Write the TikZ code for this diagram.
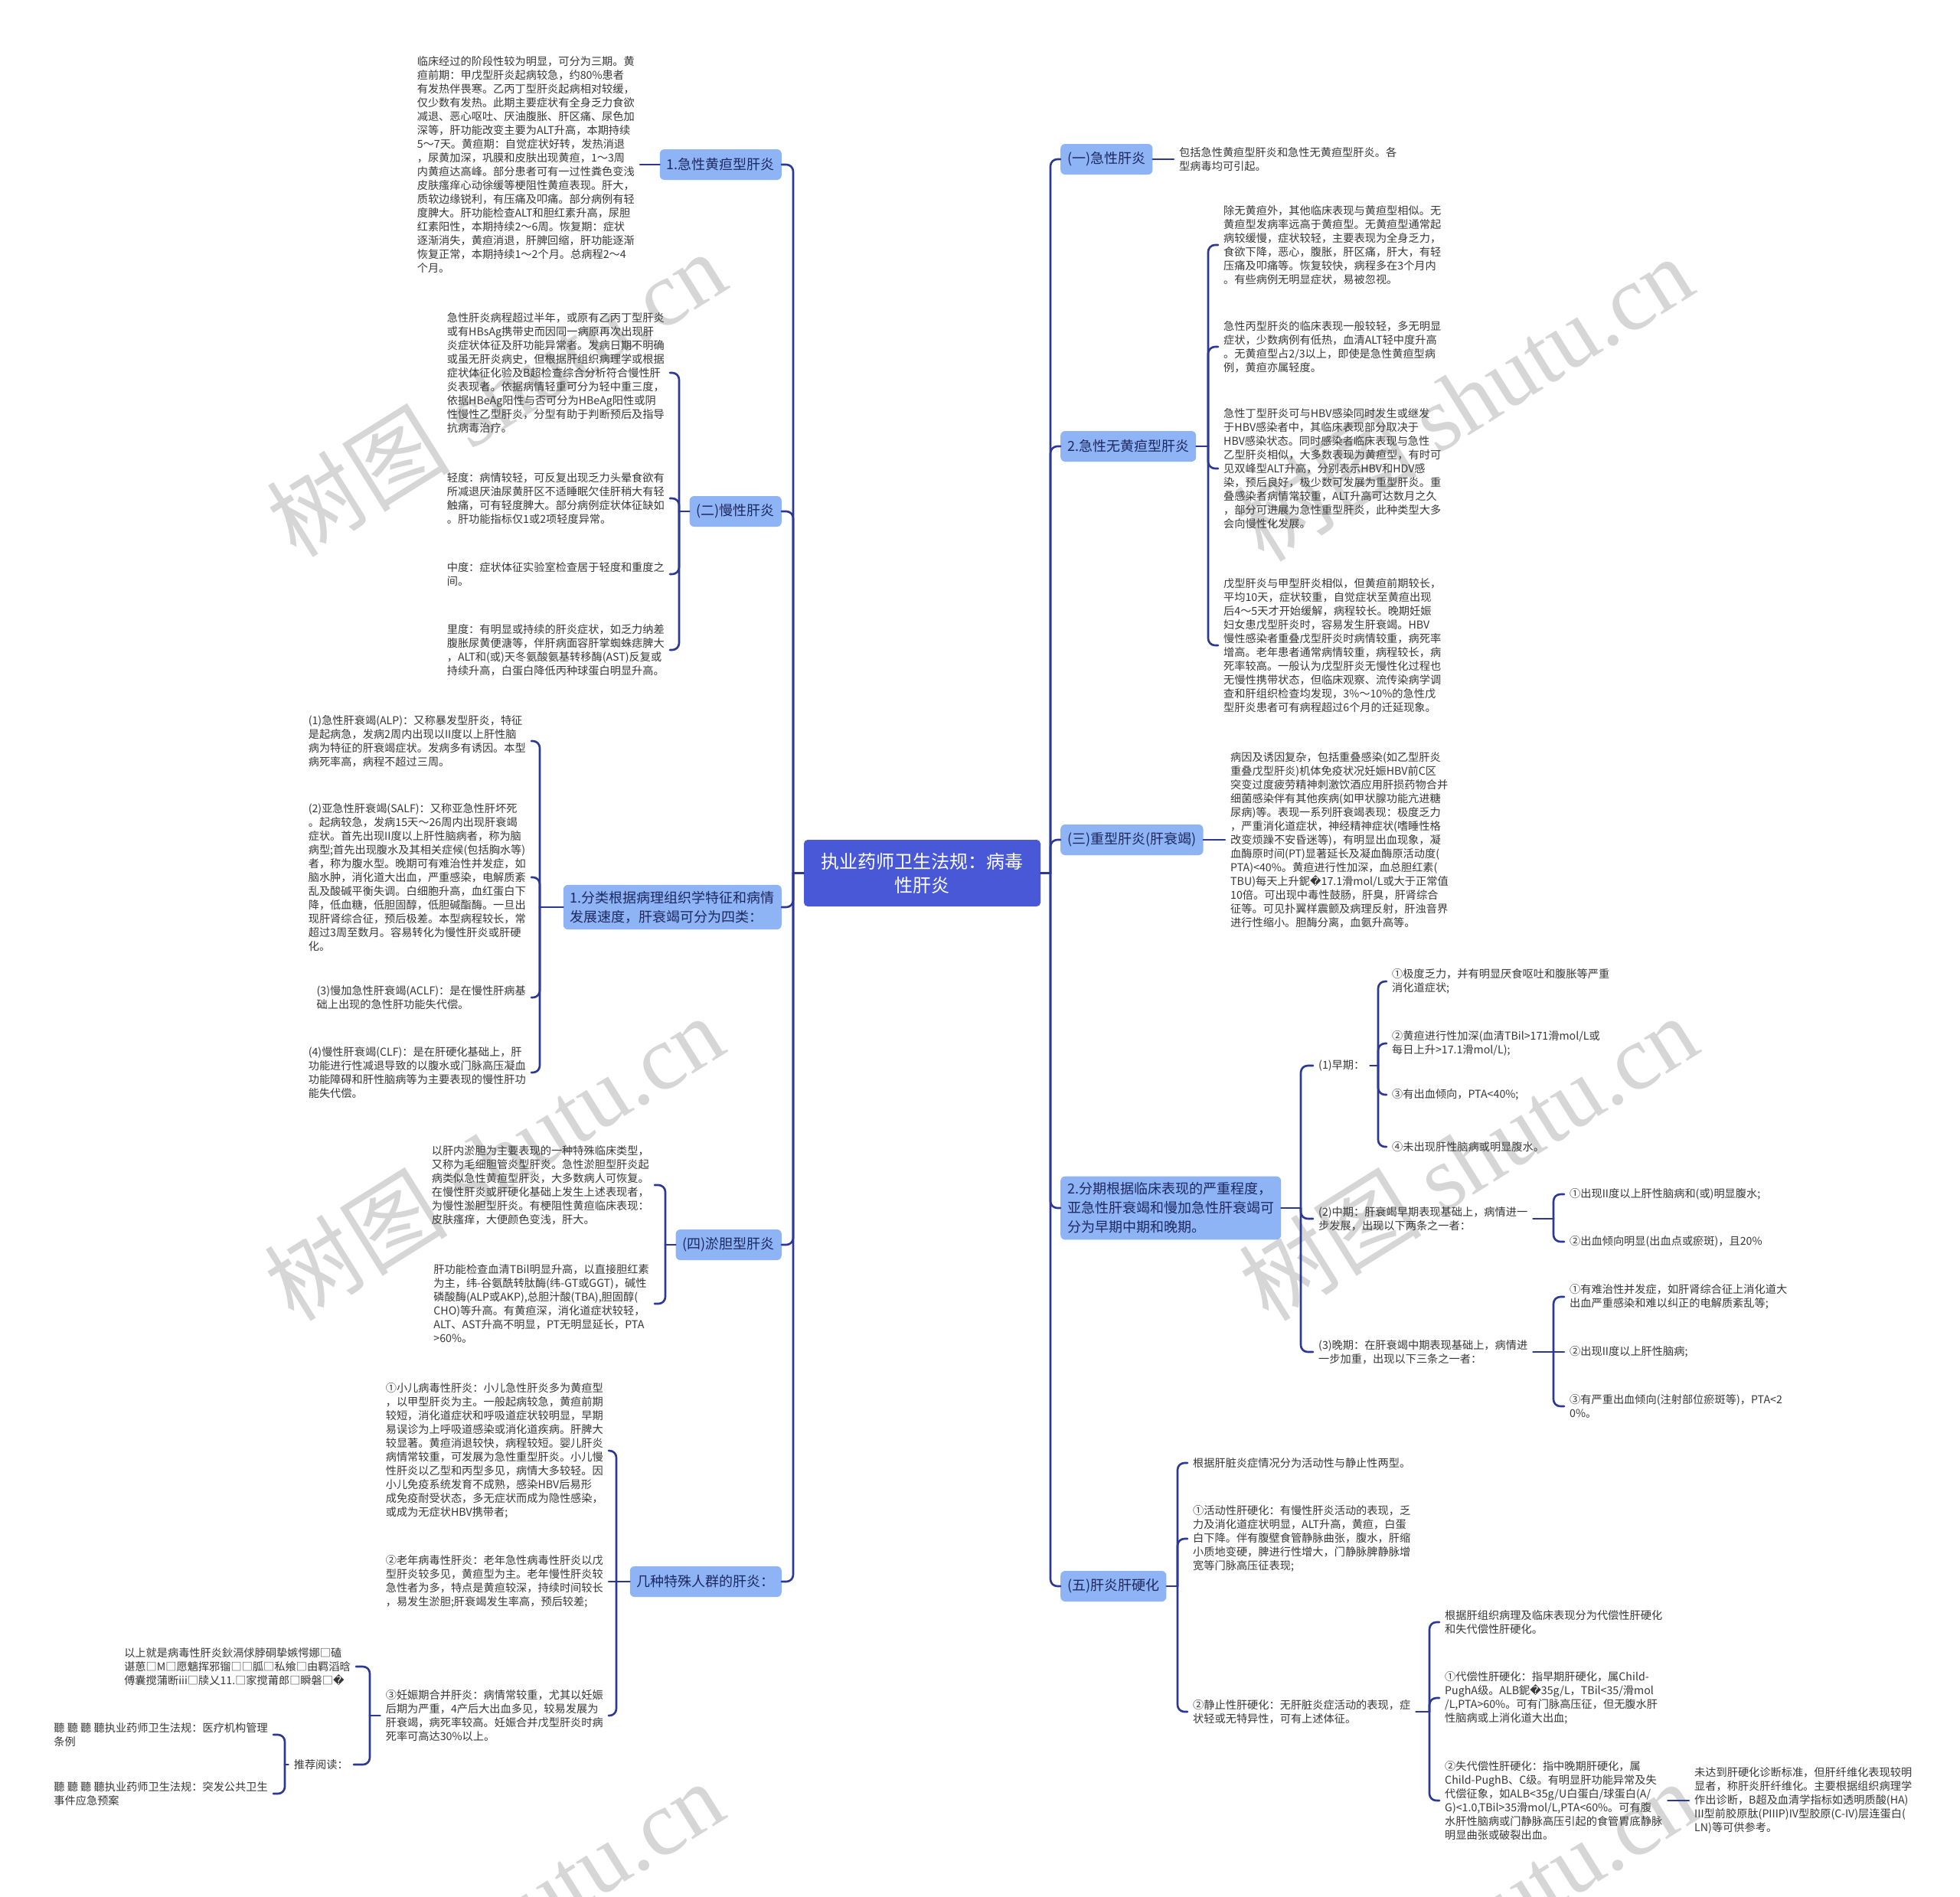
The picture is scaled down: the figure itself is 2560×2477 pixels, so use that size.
\documentclass[tikz,border=0pt]{standalone}
\usepackage{fontspec}
\setmainfont{Noto Sans CJK SC}
\newfontfamily\dv{DejaVu Sans}
\newfontfamily\wmserif{Liberation Serif}
\definecolor{linec}{RGB}{43,56,150}
\definecolor{mainfill}{RGB}{72,88,214}
\definecolor{secfill}{RGB}{142,180,246}
\definecolor{sectext}{RGB}{30,40,95}
\definecolor{leaftext}{RGB}{55,55,55}
\definecolor{wmc}{RGB}{214,214,214}
\tikzset{
 conn/.style={draw=linec, line width=2.6pt, line cap=round},
 rc/.style={rounded corners=9pt},
 mainnode/.style={fill=mainfill, text=white, rounded corners=5pt, align=center, font=\fontsize{24}{31}\selectfont, minimum width=309pt, minimum height=87pt, inner sep=6pt},
 secnode/.style={fill=secfill, text=sectext, rounded corners=6pt, align=left, font=\fontsize{18}{25}\selectfont, inner xsep=9pt, inner ysep=8pt, minimum height=40pt},
 leafL/.style={text=leaftext, align=left, font=\fontsize{14.2}{18}\selectfont, inner xsep=7pt, inner ysep=2pt, anchor=east},
 leafR/.style={text=leaftext, align=left, font=\fontsize{14.2}{18}\selectfont, inner xsep=7pt, inner ysep=2pt, anchor=west},
 wm/.style={text=wmc, rotate=32, font=\fontsize{120}{120}\selectfont, inner sep=0pt}
}
\begin{document}
\begin{tikzpicture}[x=1pt,y=-1pt]
\useasboundingbox (0,0) rectangle (2560,2477);
\clip (0,0) rectangle (2560,2477);
\fill[white] (0,0) rectangle (2560,2477);

% watermarks
\node[wm] (w1) at (648,514) {树图 {\wmserif shutu.cn}};
\node[wm] (w2) at (1911,520) {树图 {\wmserif shutu.cn}};
\node[wm] (w3) at (645,1512) {树图 {\wmserif shutu.cn}};
\node[wm] (w4) at (1917,1512) {树图 {\wmserif shutu.cn}};
\node[wm] (w5) at (645,2512) {树图 {\wmserif shutu.cn}};
\node[wm] (w6) at (1917,2512) {树图 {\wmserif shutu.cn}};

% center
\node[mainnode] (c) at (1204.5,1140.5) {执业药师卫生法规：病毒\\性肝炎};
\coordinate (cL) at (1036,1140.5);
\coordinate (cR) at (1372,1140.5);

% left secondary nodes
\node[secnode, anchor=east] (n1) at (1021,215) {1.急性黄疸型肝炎};
\node[secnode, anchor=east] (n2) at (1021,668) {(二)慢性肝炎};
\node[secnode, anchor=east] (n3) at (1021,1185) {1.分类根据病理组织学特征和病情\\发展速度，肝衰竭可分为四类：};
\node[secnode, anchor=east] (n4) at (1021,1626) {(四)淤胆型肝炎};
\node[secnode, anchor=east] (n5) at (1021,2066) {几种特殊人群的肝炎：};

% right secondary nodes
\node[secnode, anchor=west] (s1) at (1385,208) {(一)急性肝炎};
\node[secnode, anchor=west] (s2) at (1385,583) {2.急性无黄疸型肝炎};
\node[secnode, anchor=west] (s3) at (1385,1097) {(三)重型肝炎(肝衰竭)};
\node[secnode, anchor=west] (s4) at (1385,1578) {2.分期根据临床表现的严重程度，\\亚急性肝衰竭和慢加急性肝衰竭可\\分为早期中期和晚期。};
\node[secnode, anchor=west] (s5) at (1385,2072) {(五)肝炎肝硬化};

\foreach \n in {n1,n2,n3,n4,n5} \draw[conn,rc] (\n.east) -| (cL);
\draw[conn] (cL) -- (c.west);
\foreach \n in {s1,s2,s3,s4,s5} \draw[conn,rc] (\n.west) -| (cR);
\draw[conn] (cR) -- (c.east);

% ---------- N1
\node[leafL] (l1) at (836,215) {临床经过的阶段性较为明显，可分为三期。黄\\疸前期：甲戊型肝炎起病较急，约80\%患者\\有发热伴畏寒。乙丙丁型肝炎起病相对较缓，\\仅少数有发热。此期主要症状有全身乏力食欲\\减退、恶心呕吐、厌油腹胀、肝区痛、尿色加\\深等，肝功能改变主要为ALT升高，本期持续\\5～7天。黄疸期：自觉症状好转，发热消退\\，尿黄加深，巩膜和皮肤出现黄疸，1～3周\\内黄疸达高峰。部分患者可有一过性粪色变浅\\皮肤瘙痒心动徐缓等梗阻性黄疸表现。肝大，\\质软边缘锐利，有压痛及叩痛。部分病例有轻\\度脾大。肝功能检查ALT和胆红素升高，尿胆\\红素阳性，本期持续2～6周。恢复期：症状\\逐渐消失，黄疸消退，肝脾回缩，肝功能逐渐\\恢复正常，本期持续1～2个月。总病程2～4\\个月。};
\draw[conn] (l1.east) -- (n1.west);

% ---------- N2
\coordinate (b2) at (887,668);
\node[leafL] (l2a) at (875,487) {急性肝炎病程超过半年，或原有乙丙丁型肝炎\\或有HBsAg携带史而因同一病原再次出现肝\\炎症状体征及肝功能异常者。发病日期不明确\\或虽无肝炎病史，但根据肝组织病理学或根据\\症状体征化验及B超检查综合分析符合慢性肝\\炎表现者。依据病情轻重可分为轻中重三度，\\依据HBeAg阳性与否可分为HBeAg阳性或阴\\性慢性乙型肝炎，分型有助于判断预后及指导\\抗病毒治疗。};
\node[leafL] (l2b) at (875,651) {轻度：病情较轻，可反复出现乏力头晕食欲有\\所减退厌油尿黄肝区不适睡眠欠佳肝稍大有轻\\触痛，可有轻度脾大。部分病例症状体征缺如\\。肝功能指标仅1或2项轻度异常。};
\node[leafL] (l2c) at (875,750) {中度：症状体征实验室检查居于轻度和重度之\\间。};
\node[leafL] (l2d) at (875,849) {里度：有明显或持续的肝炎症状，如乏力纳差\\腹胀尿黄便溏等，伴肝病面容肝掌蜘蛛痣脾大\\，ALT和(或)天冬氨酸氨基转移酶(AST)反复或\\持续升高，白蛋白降低丙种球蛋白明显升高。};
\foreach \l in {l2a,l2b,l2c,l2d} \draw[conn,rc] (\l.east) -| (b2);
\draw[conn] (b2) -- (n2.west);

% ---------- N3
\coordinate (b3) at (705,1185);
\node[leafL] (l3a) at (694,968) {(1)急性肝衰竭(ALP)：又称暴发型肝炎，特征\\是起病急，发病2周内出现以II度以上肝性脑\\病为特征的肝衰竭症状。发病多有诱因。本型\\病死率高，病程不超过三周。};
\node[leafL] (l3b) at (694,1146) {(2)亚急性肝衰竭(SALF)：又称亚急性肝坏死\\。起病较急，发病15天～26周内出现肝衰竭\\症状。首先出现II度以上肝性脑病者，称为脑\\病型;首先出现腹水及其相关症候(包括胸水等)\\者，称为腹水型。晚期可有难治性并发症，如\\脑水肿，消化道大出血，严重感染，电解质紊\\乱及酸碱平衡失调。白细胞升高，血红蛋白下\\降，低血糖，低胆固醇，低胆碱酯酶。一旦出\\现肝肾综合征，预后极差。本型病程较长，常\\超过3周至数月。容易转化为慢性肝炎或肝硬\\化。};
\node[leafL] (l3c) at (694,1303) {(3)慢加急性肝衰竭(ACLF)：是在慢性肝病基\\础上出现的急性肝功能失代偿。};
\node[leafL] (l3d) at (694,1401) {(4)慢性肝衰竭(CLF)：是在肝硬化基础上，肝\\功能进行性减退导致的以腹水或门脉高压凝血\\功能障碍和肝性脑病等为主要表现的慢性肝功\\能失代偿。};
\foreach \l in {l3a,l3b,l3c,l3d} \draw[conn,rc] (\l.east) -| (b3);
\draw[conn] (b3) -- (n3.west);

% ---------- N4
\coordinate (b4) at (869,1626);
\node[leafL] (l4a) at (855,1548) {以肝内淤胆为主要表现的一种特殊临床类型，\\又称为毛细胆管炎型肝炎。急性淤胆型肝炎起\\病类似急性黄疸型肝炎，大多数病人可恢复。\\在慢性肝炎或肝硬化基础上发生上述表现者，\\为慢性淤胆型肝炎。有梗阻性黄疸临床表现：\\皮肤瘙痒，大便颜色变浅，肝大。};
\node[leafL] (l4b) at (855,1703) {肝功能检查血清TBil明显升高，以直接胆红素\\为主，纬-谷氨酰转肽酶(纬-GT或GGT)，碱性\\磷酸酶(ALP或AKP),总胆汁酸(TBA),胆固醇(\\CHO)等升高。有黄疸深，消化道症状较轻，\\ALT、AST升高不明显，PT无明显延长，PTA\\>60\%。};
\foreach \l in {l4a,l4b} \draw[conn,rc] (\l.east) -| (b4);
\draw[conn] (b4) -- (n4.west);

% ---------- N5
\coordinate (b5) at (805,2066);
\node[leafL] (l5a) at (795,1895) {①小儿病毒性肝炎：小儿急性肝炎多为黄疸型\\，以甲型肝炎为主。一般起病较急，黄疸前期\\较短，消化道症状和呼吸道症状较明显，早期\\易误诊为上呼吸道感染或消化道疾病。肝脾大\\较显著。黄疸消退较快，病程较短。婴儿肝炎\\病情常较重，可发展为急性重型肝炎。小儿慢\\性肝炎以乙型和丙型多见，病情大多较轻。因\\小儿免疫系统发育不成熟，感染HBV后易形\\成免疫耐受状态，多无症状而成为隐性感染，\\或成为无症状HBV携带者;};
\node[leafL] (l5b) at (795,2066) {②老年病毒性肝炎：老年急性病毒性肝炎以戊\\型肝炎较多见，黄疸型为主。老年慢性肝炎较\\急性者为多，特点是黄疸较深，持续时间较长\\，易发生淤胆;肝衰竭发生率高，预后较差;};
\node[leafL] (l5c) at (795,2241) {③妊娠期合并肝炎：病情常较重，尤其以妊娠\\后期为严重，4产后大出血多见，较易发展为\\肝衰竭，病死率较高。妊娠合并戊型肝炎时病\\死率可高达30\%以上。};
\draw[conn,rc] (l5a.east) -| (b5);
\draw[conn,rc] (l5c.east) -| (b5);
\draw[conn] (l5b.east) -- (n5.west);

% children of l5c
\coordinate (b6) at (483,2241);
\node[leafL] (g1) at (465,2177) {以上就是病毒性肝炎鈥滆俅脖硐挚嫉愕娜□磕\\谌葸□M□愿魑挥邪镏□□胍□私飨□由羁滔晗\\傅囊搅蒲断iii□牍乂11.□家搅莆郎□瞬磐□{\dv �}};
\node[leafL] (t1) at (462,2305) {推荐阅读：};
\draw[conn,rc] (g1.east) -| (b6);
\draw[conn,rc] (t1.east) -| (b6);
\draw[conn] (b6) -- (l5c.west);

\coordinate (b7) at (372,2305);
\node[leafL] (t1a) at (357,2266) {聽 聽 聽 聽执业药师卫生法规：医疗机构管理\\条例};
\node[leafL] (t1b) at (357,2343) {聽 聽 聽 聽执业药师卫生法规：突发公共卫生\\事件应急预案};
\draw[conn,rc] (t1a.east) -| (b7);
\draw[conn,rc] (t1b.east) -| (b7);
\draw[conn] (b7) -- (t1.west);

% ---------- S1
\node[leafR] (s1a) at (1533,208) {包括急性黄疸型肝炎和急性无黄疸型肝炎。各\\型病毒均可引起。};
\draw[conn] (s1.east) -- (s1a.west);

% ---------- S2
\coordinate (d2) at (1578,583);
\node[leafR] (s2a) at (1591,320) {除无黄疸外，其他临床表现与黄疸型相似。无\\黄疸型发病率远高于黄疸型。无黄疸型通常起\\病较缓慢，症状较轻，主要表现为全身乏力，\\食欲下降，恶心，腹胀，肝区痛，肝大，有轻\\压痛及叩痛等。恢复较快，病程多在3个月内\\。有些病例无明显症状，易被忽视。};
\node[leafR] (s2b) at (1591,453) {急性丙型肝炎的临床表现一般较轻，多无明显\\症状，少数病例有低热，血清ALT轻中度升高\\。无黄疸型占2/3以上，即使是急性黄疸型病\\例，黄疸亦属轻度。};
\node[leafR] (s2c) at (1591,612) {急性丁型肝炎可与HBV感染同时发生或继发\\于HBV感染者中，其临床表现部分取决于\\HBV感染状态。同时感染者临床表现与急性\\乙型肝炎相似，大多数表现为黄疸型，有时可\\见双峰型ALT升高，分别表示HBV和HDV感\\染，预后良好，极少数可发展为重型肝炎。重\\叠感染者病情常较重，ALT升高可达数月之久\\，部分可进展为急性重型肝炎，此种类型大多\\会向慢性化发展。};
\node[leafR] (s2d) at (1591,843) {戊型肝炎与甲型肝炎相似，但黄疸前期较长，\\平均10天，症状较重，自觉症状至黄疸出现\\后4～5天才开始缓解，病程较长。晚期妊娠\\妇女患戊型肝炎时，容易发生肝衰竭。HBV\\慢性感染者重叠戊型肝炎时病情较重，病死率\\增高。老年患者通常病情较重，病程较长，病\\死率较高。一般认为戊型肝炎无慢性化过程也\\无慢性携带状态，但临床观察、流传染病学调\\查和肝组织检查均发现，3\%～10\%的急性戊\\型肝炎患者可有病程超过6个月的迁延现象。};
\foreach \l in {s2a,s2b,s2c,s2d} \draw[conn,rc] (\l.west) -| (d2);
\draw[conn] (d2) -- (s2.east);

% ---------- S3
\node[leafR] (s3a) at (1600,1097) {病因及诱因复杂，包括重叠感染(如乙型肝炎\\重叠戊型肝炎)机体免疫状况妊娠HBV前C区\\突变过度疲劳精神刺激饮酒应用肝损药物合并\\细菌感染伴有其他疾病(如甲状腺功能亢进糖\\尿病)等。表现一系列肝衰竭表现：极度乏力\\，严重消化道症状，神经精神症状(嗜睡性格\\改变烦躁不安昏迷等)，有明显出血现象，凝\\血酶原时间(PT)显著延长及凝血酶原活动度(\\PTA)<40\%。黄疸进行性加深，血总胆红素(\\TBU)每天上升鈮{\dv �}17.1滑mol/L或大于正常值\\10倍。可出现中毒性鼓肠，肝臭，肝肾综合\\征等。可见扑翼样震颤及病理反射，肝浊音界\\进行性缩小。胆酶分离，血氨升高等。};
\draw[conn] (s3.east) -- (s3a.west);

% ---------- S4
\coordinate (d4) at (1699,1578);
\node[leafR] (e1) at (1715,1392) {(1)早期：};
\node[leafR] (e2) at (1715,1592) {(2)中期：肝衰竭早期表现基础上，病情进一\\步发展，出现以下两条之一者：};
\node[leafR] (e3) at (1715,1766) {(3)晚期：在肝衰竭中期表现基础上，病情进\\一步加重，出现以下三条之一者：};
\foreach \l in {e1,e2,e3} \draw[conn,rc] (\l.west) -| (d4);
\draw[conn] (d4) -- (s4.east);

\coordinate (d5) at (1800,1392);
\node[leafR] (e1a) at (1811,1282) {①极度乏力，并有明显厌食呕吐和腹胀等严重\\消化道症状;};
\node[leafR] (e1b) at (1811,1363) {②黄疸进行性加深(血清TBil>171滑mol/L或\\每日上升>17.1滑mol/L);};
\node[leafR] (e1c) at (1811,1430) {③有出血倾向，PTA<40\%;};
\node[leafR] (e1d) at (1811,1498) {④未出现肝性脑病或明显腹水。};
\foreach \l in {e1a,e1b,e1c,e1d} \draw[conn,rc] (\l.west) -| (d5);
\draw[conn] (d5) -- (e1.east);

\coordinate (d6) at (2029,1592);
\node[leafR] (e2a) at (2043,1560) {①出现II度以上肝性脑病和(或)明显腹水;};
\node[leafR] (e2b) at (2043,1622) {②出血倾向明显(出血点或瘀斑)，且20\%};
\foreach \l in {e2a,e2b} \draw[conn,rc] (\l.west) -| (d6);
\draw[conn] (d6) -- (e2.east);

\coordinate (d7) at (2029,1766);
\node[leafR] (e3a) at (2043,1694) {①有难治性并发症，如肝肾综合征上消化道大\\出血严重感染和难以纠正的电解质紊乱等;};
\node[leafR] (e3b) at (2043,1766) {②出现II度以上肝性脑病;};
\node[leafR] (e3c) at (2043,1837) {③有严重出血倾向(注射部位瘀斑等)，PTA<2\\0\%。};
\draw[conn,rc] (e3a.west) -| (d7);
\draw[conn,rc] (e3c.west) -| (d7);
\draw[conn] (e3.east) -- (e3b.west);

% ---------- S5
\coordinate (d8) at (1538,2072);
\node[leafR] (f1) at (1551,1911) {根据肝脏炎症情况分为活动性与静止性两型。};
\node[leafR] (f2) at (1551,2010) {①活动性肝硬化：有慢性肝炎活动的表现，乏\\力及消化道症状明显，ALT升高，黄疸，白蛋\\白下降。伴有腹壁食管静脉曲张，腹水，肝缩\\小质地变硬，脾进行性增大，门静脉脾静脉增\\宽等门脉高压征表现;};
\node[leafR] (f3) at (1551,2236) {②静止性肝硬化：无肝脏炎症活动的表现，症\\状轻或无特异性，可有上述体征。};
\foreach \l in {f1,f2,f3} \draw[conn,rc] (\l.west) -| (d8);
\draw[conn] (d8) -- (s5.east);

\coordinate (d9) at (1867,2236);
\node[leafR] (f3a) at (1880,2119) {根据肝组织病理及临床表现分为代偿性肝硬化\\和失代偿性肝硬化。};
\node[leafR] (f3b) at (1880,2218) {①代偿性肝硬化：指早期肝硬化，属Child-\\PughA级。ALB鈮{\dv �}35g/L，TBil<35/滑mol\\/L,PTA>60\%。可有门脉高压征，但无腹水肝\\性脑病或上消化道大出血;};
\node[leafR] (f3c) at (1880,2352) {②失代偿性肝硬化：指中晚期肝硬化，属\\Child-PughB、C级。有明显肝功能异常及失\\代偿征象，如ALB<35g/U白蛋白/球蛋白(A/\\G)<1.0,TBil>35滑mol/L,PTA<60\%。可有腹\\水肝性脑病或门静脉高压引起的食管胃底静脉\\明显曲张或破裂出血。};
\foreach \l in {f3a,f3b,f3c} \draw[conn,rc] (\l.west) -| (d9);
\draw[conn] (d9) -- (f3.east);

\node[leafR] (f3c1) at (2206,2352) {未达到肝硬化诊断标准，但肝纤维化表现较明\\显者，称肝炎肝纤维化。主要根据组织病理学\\作出诊断，B超及血清学指标如透明质酸(HA)\\III型前胶原肽(PIIIP)IV型胶原(C-IV)层连蛋白(\\LN)等可供参考。};
\draw[conn] (f3c.east) -- (f3c1.west);
\end{tikzpicture}
\end{document}
